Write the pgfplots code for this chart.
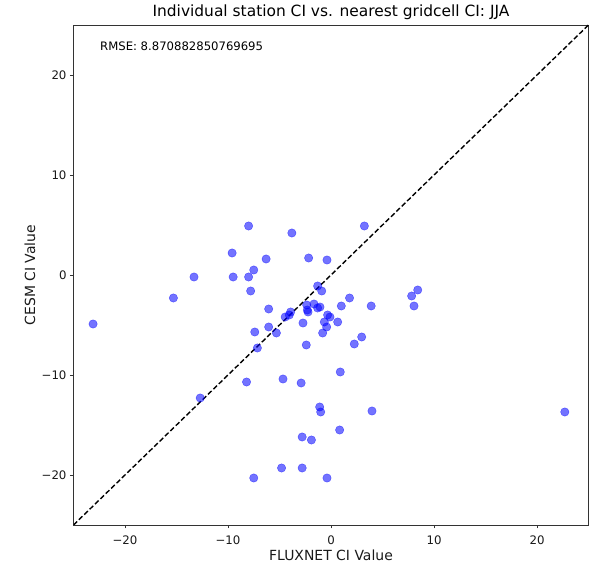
\documentclass[border=0pt]{standalone}
\usepackage{fontspec}
\setmainfont{DejaVu Sans}
\usepackage{pgfplots}
\pgfplotsset{compat=1.18}

\pgfplotstableread{
x y
-23.1 -4.9
-15.3 -2.3
-13.3 -0.2
-12.7 -12.3
-9.6 2.2
-9.5 -0.2
-8.0 4.9
-8.0 -0.2
-7.5 0.5
-7.8 -1.6
-8.2 -10.7
-7.4 -5.7
-7.15 -7.3
-7.5 -20.3
-6.3 1.6
-6.05 -3.4
-6.05 -5.2
-5.3 -5.8
-4.8 -19.3
-4.66 -10.4
-4.45 -4.2
-4.05 -4.0
-3.92 -3.7
-3.8 4.2
-2.9 -10.8
-2.8 -16.2
-2.8 -19.3
-2.72 -4.8
-2.4 -7.0
-2.36 -3.0
-2.3 -3.5
-2.23 -3.7
-2.17 1.7
-1.9 -16.5
-1.65 -2.9
-1.3 -3.3
-1.3 -1.1
-1.1 -13.2
-1.07 -3.2
-1.0 -13.7
-0.9 -1.6
-0.81 -5.8
-0.65 -4.7
-0.42 -5.2
-0.39 1.5
-0.39 -20.3
-0.33 -4.0
-0.1 -4.2
0.65 -4.7
0.84 -15.5
0.9 -9.7
1.0 -3.1
1.8 -2.3
2.26 -6.9
2.98 -6.2
3.24 4.9
3.9 -3.1
3.98 -13.6
7.83 -2.1
8.06 -3.1
8.42 -1.5
22.7 -13.7
}\stations

\begin{document}
\begin{tikzpicture}
\begin{axis}[
    name=main,
    scale only axis,
    width=515bp, height=500bp,
    xmin=-25, xmax=25, ymin=-25, ymax=25,
    xtick={-20,-10,0,10,20}, ytick={-20,-10,0,10,20},
    xticklabels={−20,−10,0,10,20}, yticklabels={−20,−10,0,10,20},
    tick align=outside, tick pos=left,
    major tick length=3.5bp,
    axis line style={black!80, line width=0.8bp},
    every tick/.style={black!80, line width=0.8bp},
    ticklabel style={font=\fontsize{11.8}{13}\selectfont, text=black!90},
    xticklabel style={yshift=-4bp},
    xlabel={FLUXNET CI Value}, ylabel={CESM CI Value},
    label style={font=\fontsize{14}{16}\selectfont, text=black!90},
    xlabel style={at={(axis description cs:0.5,0)}, anchor=center, yshift=-30bp},
    ylabel style={at={(axis description cs:0,0.5)}, anchor=center, yshift=43.5bp},
    title={Individual station CI vs. nearest gridcell CI: JJA},
    title style={font=\fontsize{15.5}{18}\selectfont, at={(axis description cs:0.5,1)}, anchor=center, yshift=7bp},
    clip=true,
]
\addplot[black, dashed, line width=1.4bp, dash pattern=on 5bp off 2.5bp] coordinates {(-25,-25) (25,25)};
\addplot[only marks, mark=*, mark size=4.2bp,
    mark options={fill=blue, draw=blue, fill opacity=0.55, draw opacity=0.55}]
    table {\stations};
\node[anchor=west, font=\fontsize{11.7}{13}\selectfont] at (rel axis cs:0.045,0.957) {RMSE: 8.870882850769695};
\end{axis}
\path (main.south west) ++(-73.5bp,-38bp) coordinate (bbA);
\path (main.north east) ++(3.5bp,25bp) coordinate (bbB);
\pgfresetboundingbox
\path[use as bounding box] (bbA) rectangle (bbB);
\end{tikzpicture}
\end{document}
